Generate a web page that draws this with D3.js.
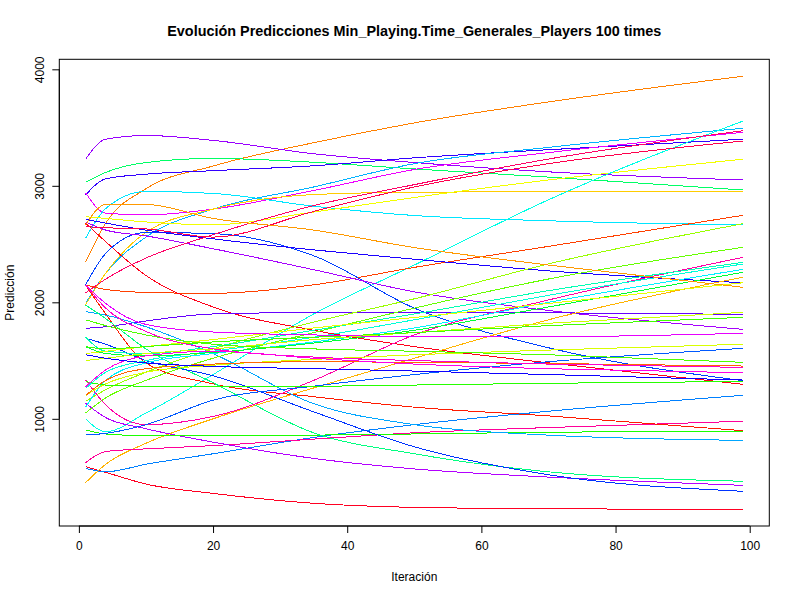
<!DOCTYPE html>
<html>
<head>
<meta charset="utf-8">
<script src="https://cdn.jsdelivr.net/npm/d3@7"></script>
<style>
  body { margin: 0; background: #fff; }
  text { font-family: "Liberation Sans", Arial, sans-serif; }
</style>
</head>
<body>
<div id="chart"></div>
<script>
// iteraciones donde se leyo cada curva
const iteraciones = [1, 4, 10, 20, 35, 50, 70, 99];

// predicciones (una fila por curva)
const predicciones = [
  [2346, 2680, 2975, 3170, 3370, 3540, 3720, 3940],
  [3228, 3400, 3432, 3390, 3275, 3200, 3120, 3050],
  [3030, 3115, 3200, 3235, 3202, 3145, 3075, 2964],
  [2921, 3060, 3100, 3130, 3172, 3240, 3310, 3400],
  [2940, 2765, 2750, 2800, 2960, 3140, 3285, 3459],
  [2549, 2805, 2952, 2935, 2825, 2745, 2700, 2664],
  [1990, 2250, 2560, 2800, 2990, 3190, 3330, 3494],
  [1980, 2250, 2600, 2800, 2925, 2945, 2950, 2955],
  [2735, 2720, 2690, 2665, 2775, 2900, 3050, 3228],
  [1000, 890, 1050, 1380, 1900, 2320, 2880, 3556],
  [2150, 2110, 2085, 2077, 2150, 2300, 2480, 2747],
  [2680, 2520, 2230, 1960, 1760, 1620, 1480, 1296],
  [2150, 2420, 2600, 2590, 2400, 1950, 1610, 1327],
  [2712, 2680, 2620, 2545, 2450, 2370, 2270, 2168],
  [2690, 2620, 2570, 2460, 2280, 2090, 1930, 1768],
  [1777, 1790, 1840, 1900, 1912, 1912, 1910, 1897],
  [589, 540, 440, 360, 275, 240, 228, 223],
  [575, 545, 610, 700, 840, 950, 1065, 1202],
  [452, 610, 790, 1000, 1265, 1520, 1850, 2215],
  [623, 720, 742, 770, 826, 880, 925, 979],
  [1133, 1010, 915, 800, 660, 570, 500, 429],
  [904, 870, 855, 855, 860, 870, 885, 893],
  [2148, 1900, 1480, 1300, 1190, 1100, 1025, 898],
  [1920, 1890, 1790, 1560, 1130, 950, 860, 815],
  [1977, 1860, 1600, 1310, 880, 700, 545, 464],
  [1691, 1640, 1500, 1370, 1060, 760, 520, 378],
  [1150, 1250, 1400, 1600, 1830, 2030, 2330, 2675],
  [1050, 1180, 1330, 1520, 1740, 1950, 2200, 2472],
  [1333, 1120, 950, 1020, 1330, 1720, 2020, 2386],
  [1700, 1580, 1560, 1620, 1760, 1900, 2100, 2343],
  [1260, 1400, 1500, 1580, 1700, 1850, 2060, 2329],
  [1100, 1330, 1480, 1560, 1660, 1780, 2000, 2283],
  [1620, 1560, 1540, 1570, 1650, 1760, 1960, 2258],
  [1560, 1580, 1620, 1680, 1780, 1870, 1990, 2168],
  [1500, 1520, 1560, 1600, 1680, 1740, 1820, 1914],
  [1620, 1600, 1620, 1660, 1700, 1740, 1800, 1871],
  [2148, 1990, 1810, 1745, 1720, 1705, 1705, 1734],
  [1200, 1300, 1400, 1460, 1510, 1550, 1590, 1640],
  [861, 875, 950, 1160, 1280, 1380, 1490, 1605],
  [1320, 1290, 1280, 1280, 1280, 1290, 1305, 1320],
  [1850, 1800, 1720, 1640, 1600, 1580, 1550, 1485],
  [1200, 1330, 1430, 1470, 1490, 1485, 1475, 1453],
  [2150, 1950, 1750, 1600, 1530, 1500, 1470, 1442],
  [1276, 1420, 1540, 1580, 1520, 1470, 1430, 1396],
  [1550, 1520, 1480, 1450, 1430, 1410, 1380, 1333],
  [2080, 2200, 2380, 2580, 2830, 3010, 3230, 3473],
  [2650, 2640, 2630, 2560, 2780, 2990, 3190, 3385],
  [2664, 2840, 2840, 2720, 2620, 2470, 2320, 2129]
];

const colores = [
  "#FF8000", "#9900FF", "#00FF66", "#3300FF", "#EE00FF", "#00E6FF", "#00B3FF", "#FFCC00",
  "#F2FF00", "#00FFE6", "#FF4000", "#FF0019", "#0040FF", "#1A00FF", "#A600FF", "#6600FF",
  "#FF0022", "#0080FF", "#FFB300", "#FF0099", "#B300FF", "#1AFF00", "#FF1A00", "#00A6FF",
  "#00FF80", "#0033FF", "#99FF00", "#66FF00", "#FF00A6", "#00FFB3", "#00FFD9", "#00F2FF",
  "#00FF33", "#E6FF00", "#CCFF00", "#40FF00", "#E600FF", "#D9FF00", "#0059FF", "#26FF00",
  "#4DFF00", "#FF6600", "#FF00CC", "#FF00E6", "#0D00FF", "#FF0066", "#FF004D", "#FF9900"
];

const xTicks = [0, 20, 40, 60, 80, 100];
const yTicks = [1000, 2000, 3000, 4000];

const titulo = "Evolución Predicciones Min_Playing.Time_Generales_Players 100 times";

const W = 800, H = 600;
const L = 59.3, R = 769.3, T = 59.3, B = 526;

const svg = d3.select("#chart").append("svg")
  .attr("width", W)
  .attr("height", H);

// rango como en R: datos + 4%
const x = d3.scaleLinear().domain([-2.92, 102.92]).range([L, R]);
const y = d3.scaleLinear().domain([80, 4086]).range([B, T]);

const line = d3.line()
  .x((d, i) => x(iteraciones[i]))
  .y(d => y(d))
  .curve(d3.curveMonotoneX);

svg.append("g")
  .selectAll("path")
  .data(predicciones)
  .join("path")
  .attr("d", d => line(d))
  .attr("fill", "none")
  .attr("stroke", (d, i) => colores[i % colores.length])
  .attr("stroke-width", 1)
  .attr("shape-rendering", "crispEdges");

// caja
svg.append("rect")
  .attr("x", L).attr("y", T)
  .attr("width", R - L).attr("height", B - T)
  .attr("fill", "none")
  .attr("stroke", "#000")
  .attr("stroke-width", 1);

// eje x
const gx = svg.append("g")
  .attr("transform", `translate(0,${B})`)
  .call(d3.axisBottom(x).tickValues(xTicks).tickSize(7).tickPadding(8).tickSizeOuter(0));
gx.select(".domain").remove();
gx.append("line")
  .attr("x1", x(0)).attr("x2", x(100))
  .attr("stroke", "#000");
gx.selectAll("text").attr("font-size", 12).attr("fill", "#000")
  .attr("font-family", "Liberation Sans, Arial, sans-serif");

// eje y
const gy = svg.append("g")
  .attr("transform", `translate(${L},0)`)
  .call(d3.axisLeft(y).tickValues(yTicks).tickSize(7).tickFormat(d3.format("d")).tickSizeOuter(0));
gy.select(".domain").remove();
gy.append("line")
  .attr("y1", y(1000)).attr("y2", y(4000))
  .attr("stroke", "#000");
gy.selectAll("text")
  .attr("x", null).attr("dy", null)
  .attr("text-anchor", "middle")
  .attr("transform", "translate(-15,0) rotate(-90)")
  .attr("font-size", 12).attr("fill", "#000")
  .attr("font-family", "Liberation Sans, Arial, sans-serif");

// titulos
svg.append("text")
  .attr("x", (L + R) / 2).attr("y", 36)
  .attr("text-anchor", "middle")
  .attr("font-size", 14.4).attr("font-weight", "bold")
  .text(titulo);

svg.append("text")
  .attr("x", (L + R) / 2).attr("y", 581)
  .attr("text-anchor", "middle")
  .attr("font-size", 12)
  .text("Iteración");

svg.append("text")
  .attr("transform", `translate(14,${(T + B) / 2}) rotate(-90)`)
  .attr("text-anchor", "middle")
  .attr("font-size", 12)
  .text("Predicción");
</script>
</body>
</html>
